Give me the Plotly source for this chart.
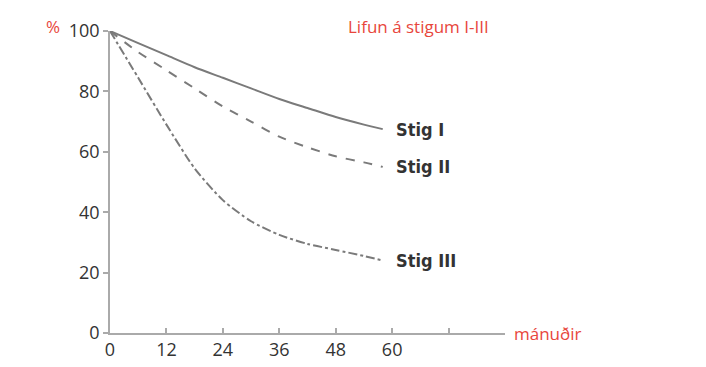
import plotly.graph_objects as go

months = [0, 6, 12, 18, 24, 30, 36, 42, 48, 54, 58]
stig1 = [100, 96, 92, 88, 84.5, 81, 77.5, 74.5, 71.5, 69, 67.5]
stig2 = [100, 93, 87, 81, 75, 70, 65, 61.5, 58.5, 56.5, 55]
stig3 = [100, 84.5, 69, 54.5, 44, 37, 32.5, 29.5, 27.5, 25.5, 24]
series_names = ["Stig I", "Stig II", "Stig III"]
x_tickvals = [0, 12, 24, 36, 48, 60, 72]
x_ticktext = ["0", "12", "24", "36", "48", "60", ""]
y_tickvals = [0, 20, 40, 60, 80, 100]

RED = "#e8463c"
GREY = "#7a7a7a"
TXT = "#333333"
LABEL_FONT = "DejaVu Sans Condensed, Roboto Condensed, Arial Narrow, Roboto, sans-serif"

fig = go.Figure()
for ys, name, dash in zip([stig1, stig2, stig3], series_names, ["solid", "dash", "dashdot"]):
    fig.add_trace(go.Scatter(x=months, y=ys, mode="lines", name=name,
                             line=dict(color=GREY, width=2, dash=dash, shape="spline", smoothing=0.7),
                             showlegend=False))
    fig.add_annotation(x=months[-1] + 2.5, y=ys[-1], text="<b>" + name + "</b>", showarrow=False,
                       xanchor="left", yanchor="middle",
                       font=dict(family=LABEL_FONT, size=18, color=TXT))

fig.add_annotation(xref="paper", yref="paper", x=-0.145, y=1.015, text="%", showarrow=False,
                   xanchor="center", yanchor="middle", font=dict(family="Open Sans", size=17, color=RED))
fig.add_annotation(xref="paper", yref="paper", x=1.018, y=0.0, text="mánuðir", showarrow=False,
                   xanchor="left", yanchor="middle", font=dict(family="Open Sans", size=17, color=RED))
fig.add_annotation(xref="paper", yref="paper", x=0.78, y=1.015, text="Lifun á stigum I-III", showarrow=False,
                   xanchor="center", yanchor="middle", font=dict(family="Open Sans", size=17, color=RED))

fig.update_layout(
    width=706, height=367,
    margin=dict(l=102, r=209, t=23, b=42),
    plot_bgcolor="white", paper_bgcolor="white",
    font=dict(family="Open Sans", size=18, color=TXT),
)
fig.update_xaxes(range=[0, 84], tickvals=x_tickvals, ticktext=x_ticktext, showgrid=False, zeroline=False,
                 showline=True, linecolor="#aaaaaa", linewidth=1.5, ticks="inside", ticklen=5,
                 tickcolor="#aaaaaa", tickwidth=1.5, automargin=False)
fig.update_yaxes(range=[0, 100], tickvals=y_tickvals, showgrid=False, zeroline=False,
                 showline=True, linecolor="#aaaaaa", linewidth=1.5, ticks="outside", ticklen=5,
                 tickcolor="#aaaaaa", tickwidth=1.5, automargin=False)

fig.write_html("out.html")
